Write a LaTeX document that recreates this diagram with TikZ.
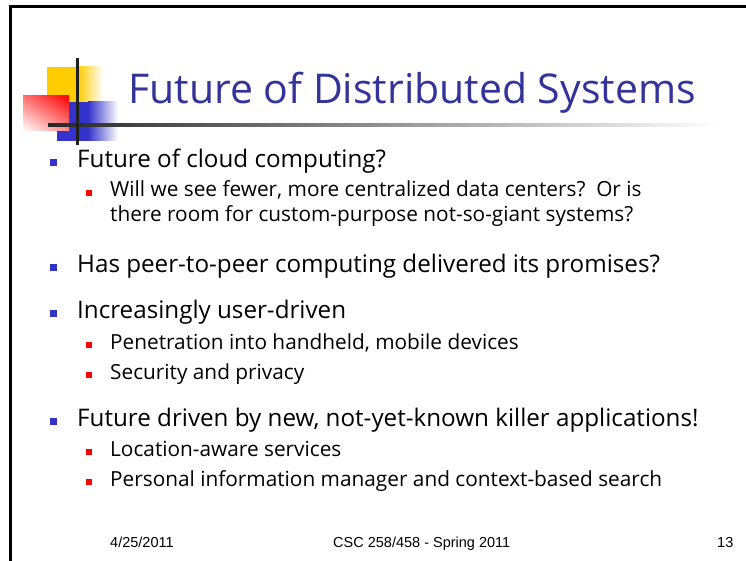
\documentclass[tikz,border=0pt]{standalone}
\usepackage{fontspec}
\setmainfont{Open Sans}
\newfontfamily\footfont{Liberation Sans}
\usetikzlibrary{calc,shadings}

\definecolor{titleblue}{HTML}{333399}
\definecolor{bulletblue}{HTML}{3333CC}
\definecolor{logoyellow}{HTML}{FFCC00}

\tikzset{
  title/.style={anchor=base west, inner sep=0pt, text=titleblue, font=\fontsize{41}{45}\selectfont},
  lone/.style={anchor=base west, inner sep=0pt, font=\fontsize{24.2}{28}\selectfont},
  ltwo/.style={anchor=base west, inner sep=0pt, font=\fontsize{20.8}{25}\selectfont},
  bone/.style={fill=bulletblue, minimum size=7pt, inner sep=0pt},
  btwo/.style={fill=red, minimum size=6pt, inner sep=0pt},
  foot/.style={anchor=base west, inner sep=0pt, font=\footfont\fontsize{14.5}{17}\selectfont},
}

\begin{document}
\begin{tikzpicture}[x=1pt,y=1pt]
        \useasboundingbox (0,0) rectangle (746,-561);
        % Slide frame
        \draw[line width=2.5pt] (10.5,-561) -- (10.5,-6.5) -- (746,-6.5);

        % Logo
        \fill[logoyellow] (47,-67) rectangle (78,-102);
        \shade[left color=logoyellow, right color=white] (78,-67) rectangle (103,-102);
        \fill[bulletblue] (57,-102) rectangle (88,-141);
        \shade[left color=bulletblue, right color=white] (88,-102) rectangle (118,-141);
        \shade[upper right=red, lower left=white, upper left=red!55, lower right=red!45] (23,-96) rectangle (69,-131);
        \shade[left color=black!85, right color=white] (48,-123.5) rectangle (720,-126.5);
        \fill[black!88] (75.5,-58) rectangle (78.5,-145);

        % Title
        \node[title] (title) at (128,-104) {Future of Distributed Systems};

        % Bullets
        \node[lone] (t1) at (77,-168) {Future of cloud computing?};
        \node[ltwo] (t1a) at (110,-197) {Will we see fewer, more centralized data centers?\ \ Or is};
        \node[ltwo] (t1b) at (110,-222) {there room for custom-purpose not-so-giant systems?};
        \node[lone] (t2) at (77,-272) {Has peer-to-peer computing delivered its promises?};
        \node[lone] (t3) at (77,-318) {Increasingly user-driven};
        \node[ltwo] (t3a) at (110,-349) {Penetration into handheld, mobile devices};
        \node[ltwo] (t3b) at (110,-379) {Security and privacy};
        \node[lone] (t4) at (77,-426) {Future driven by new, not-yet-known killer applications!};
        \node[ltwo] (t4a) at (110,-456) {Location-aware services};
        \node[ltwo] (t4b) at (110,-486) {Personal information manager and context-based search};

        \node[bone] (b1) at ($(t1.base west)+(-23.5,5)$) {};
        \node[btwo] (b1a) at ($(t1a.base west)+(-21,4)$) {};
        \node[bone] (b2) at ($(t2.base west)+(-23.5,5)$) {};
        \node[bone] (b3) at ($(t3.base west)+(-23.5,5)$) {};
        \node[btwo] (b3a) at ($(t3a.base west)+(-21,4)$) {};
        \node[btwo] (b3b) at ($(t3b.base west)+(-21,4)$) {};
        \node[bone] (b4) at ($(t4.base west)+(-23.5,5)$) {};
        \node[btwo] (b4a) at ($(t4a.base west)+(-21,4)$) {};
        \node[btwo] (b4b) at ($(t4b.base west)+(-21,4)$) {};

        % Footer
        \node[foot] (date) at (110,-547) {4/25/2011};
        \node[foot] (course) at (333,-547) {CSC 258/458 - Spring 2011};
        \node[foot] (page) at (717,-547) {13};
\end{tikzpicture}
\end{document}
